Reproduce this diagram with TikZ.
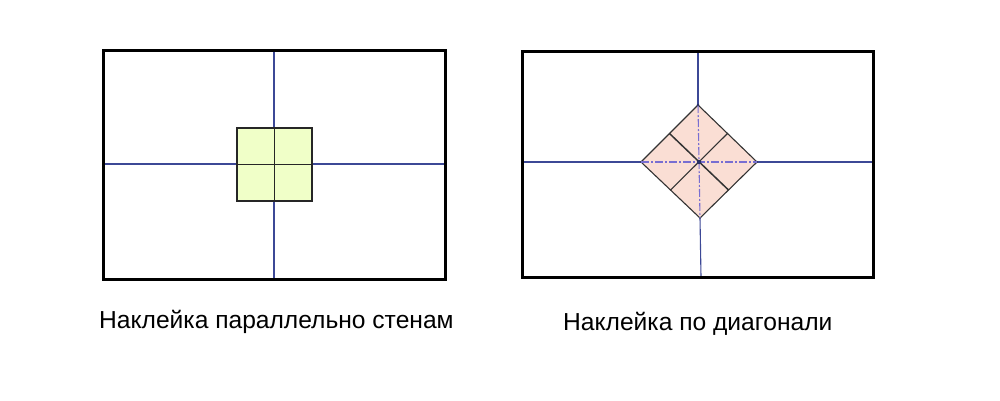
\documentclass[tikz,border=0pt]{standalone}
\usepackage{fontspec}
\setmainfont{Liberation Sans}
\definecolor{axisblue}{RGB}{60,72,150}
\definecolor{dashviolet}{RGB}{120,110,210}
\definecolor{tileyellow}{RGB}{240,255,200}
\definecolor{tilepink}{RGB}{250,222,212}
\begin{document}
\begin{tikzpicture}[x=1pt,y=-1pt,
  frame/.style={draw=black, line width=3pt},
  axis/.style={draw=axisblue, line width=1.1pt},
  tile/.style={draw=black!85, line width=1.7pt},
  diag/.style={draw=black!80, line width=1.1pt},
  centreline/.style={draw=dashviolet, line width=1.1pt, dash pattern=on 8pt off 2pt on 2pt off 2pt},
  caption/.style={anchor=base west, inner sep=0pt, font=\fontsize{24.6}{28}\selectfont}]
\useasboundingbox[fill=white] (0,0) rectangle (1000,400);
% left picture
\draw[axis] (274,50) -- (274,279);
\draw[axis] (103,164) -- (445,164);
\filldraw[tile, fill=tileyellow] (237,128) rectangle (312,201);
\draw[tile] (274.5,128) -- (274.5,201);
\draw[tile] (237,164.5) -- (312,164.5);
\draw[frame] (103,50) rectangle (445,279);
% right picture
\draw[axis] (698,51) -- (698,105);
\draw[axis] (700,218) -- (701,277);
\draw[axis] (522,162) -- (641,162);
\draw[axis] (757,162) -- (873,162);
\filldraw[diag, fill=tilepink] (698,105) -- (757,162) -- (700,218) -- (641,162) -- cycle;
\draw[centreline] (698,105) -- (700,218);
\draw[centreline] (641,162) -- (757,162);
\draw[diag, line width=1.5pt] (669.5,133.5) -- (728.5,190);
\draw[diag] (727.5,133.5) -- (670.5,190);
\fill[axisblue!70!black] (699,162) circle (2.2pt);
\fill[axisblue!70!black] (698,105) circle (1.3pt);
\draw[frame] (522,51) rectangle (873,277);
% captions
\node[caption] (capA) at (99,328) {Наклейка параллельно стенам};
\node[caption] (capB) at (563,330.5) {Наклейка по диагонали};
\end{tikzpicture}
\end{document}
